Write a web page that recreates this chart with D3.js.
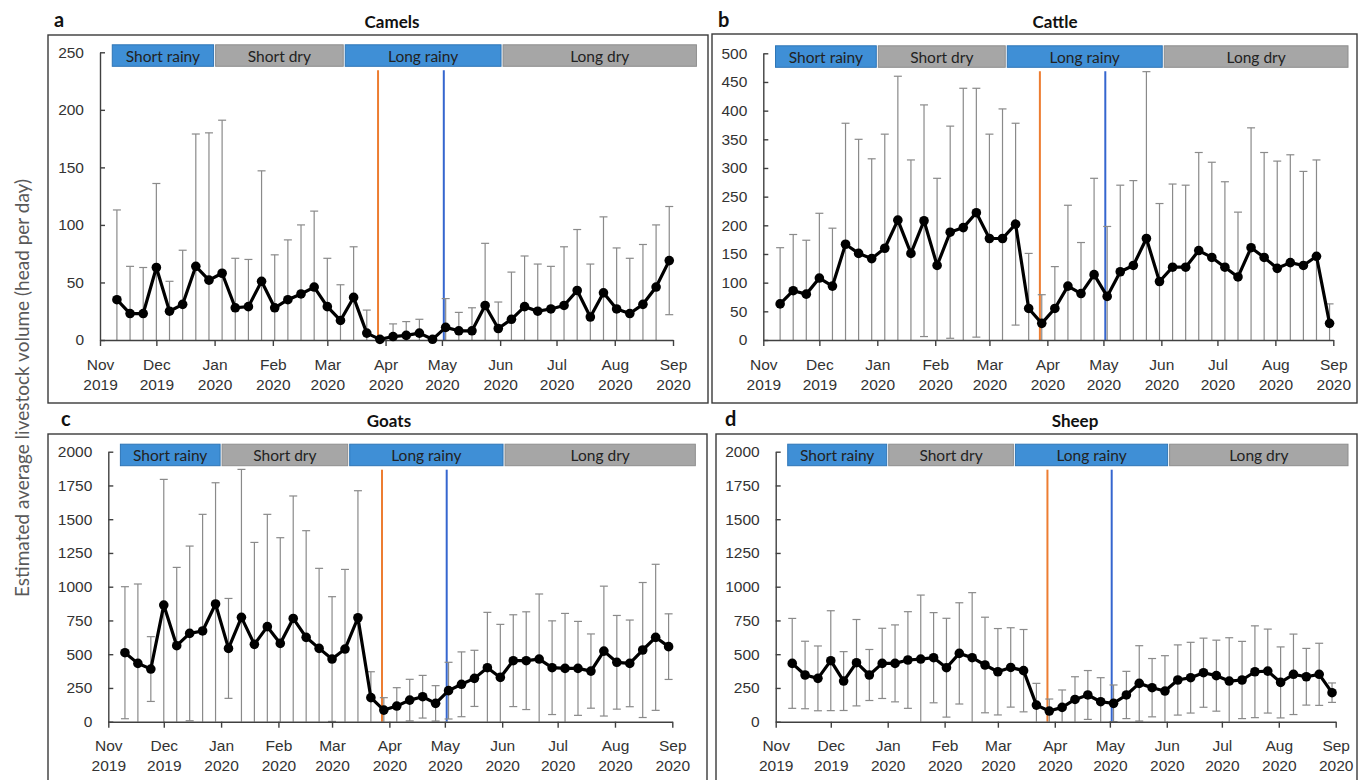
<!DOCTYPE html>
<html>
<head>
<meta charset="utf-8">
<script src="https://cdn.jsdelivr.net/npm/d3@7"></script>
<style>
  html, body { margin: 0; padding: 0; background: #fff; }
  svg { display: block; font-family: Lato, "Open Sans", sans-serif; }
</style>
</head>
<body>
<svg id="chart" width="1359" height="780"></svg>
<script>
// Weekly sampling dates (one point per week)
const weeks = [
  "2019-11-10","2019-11-17","2019-11-24",
  "2019-12-01","2019-12-08","2019-12-15","2019-12-22","2019-12-29",
  "2020-01-05","2020-01-12","2020-01-19","2020-01-26",
  "2020-02-02","2020-02-09","2020-02-16","2020-02-23",
  "2020-03-01","2020-03-08","2020-03-15","2020-03-22","2020-03-29",
  "2020-04-05","2020-04-12","2020-04-19","2020-04-26",
  "2020-05-03","2020-05-10","2020-05-17","2020-05-24","2020-05-31",
  "2020-06-07","2020-06-14","2020-06-21","2020-06-28",
  "2020-07-05","2020-07-12","2020-07-19","2020-07-26",
  "2020-08-02","2020-08-09","2020-08-16","2020-08-23","2020-08-30"
];

// Mean weekly volume (head per day) and its error (±)
const camelsMean = [35,23,23,63,25,31,64,52,58,28,29,51,28,35,40,46,29,17,37,6,
  0.5,3,4,6,0.6,11,8,8,30,10,18,29,25,27,30,43,20,41,27,23,31,46,69];
const camelsErr = [78,41,40,73,26,47,115,128,133,43,41,96,46,52,60,66,42,31,44,20,
  2,11,12,12,1,25,16,20,54,23,41,44,41,37,51,53,46,66,53,48,52,54,47];

const cattleMean = [63,86,80,108,94,167,151,142,160,209,151,208,130,188,196,222,177,177,202,55,
  29,55,94,81,114,76,119,130,177,102,127,127,156,144,127,110,161,144,125,135,130,146,29];
const cattleErr = [98,98,94,113,101,211,199,174,199,251,163,202,152,185,243,217,182,226,176,96,
  50,73,141,89,168,122,151,148,291,136,145,143,171,166,149,113,209,183,187,188,164,168,34];

const goatsMean = [511,432,390,864,563,654,672,872,543,773,573,704,580,765,625,543,464,538,770,178,
  86,116,160,185,136,230,277,321,400,328,452,452,464,400,395,395,375,523,440,432,531,625,556];
const goatsErr = [489,588,240,931,580,647,864,898,370,1096,755,832,783,907,790,593,462,590,941,192,
  92,136,154,158,131,210,240,208,410,393,340,362,482,347,407,348,275,481,347,321,500,541,243];

const sheepMean = [432,346,321,452,301,437,346,432,432,457,464,474,400,506,474,420,370,402,378,123,
  79,106,165,198,148,136,198,284,252,227,309,326,363,341,301,309,370,375,291,351,333,351,215];
const sheepErr = [333,250,240,370,218,320,189,260,285,358,474,334,366,375,482,354,320,294,305,161,
  89,129,168,181,178,136,175,279,216,262,260,262,256,263,321,286,340,311,263,298,210,230,72];

// Axis ticks
const monthTicks = ["2019-11-01","2019-12-01","2020-01-01","2020-02-01","2020-03-01","2020-04-01",
  "2020-05-01","2020-06-01","2020-07-01","2020-08-01","2020-09-01"];
const yTicksCamels = [0,50,100,150,200,250];
const yTicksCattle = [0,50,100,150,200,250,300,350,400,450,500];
const yTicksSmall = [0,250,500,750,1000,1250,1500,1750,2000];

// Seasons shown as a band along the top of each panel
const seasonNames = ["Short rainy","Short dry","Long rainy","Long dry"];
const seasonStarts = ["2019-11-07","2020-01-01","2020-03-10","2020-06-02"];
const seasonEnds   = ["2020-01-01","2020-03-10","2020-06-02","2020-09-14"];
const seasonWet    = [true,false,true,false];

// Event markers
const eventDates  = ["2020-03-28","2020-05-02"];
const eventColors = ["#ed7d31","#3566cf"];

const parse = d3.timeParse("%Y-%m-%d");
const weekDates = weeks.map(parse);
const monthDates = monthTicks.map(parse);

const panels = [
  { letter:"a", title:"Camels", mean:camelsMean, err:camelsErr, ticks:yTicksCamels,
    frame:{x0:48,y0:35,x1:708,y1:403}, plot:{left:100,right:673,top:52.3,bottom:340},
    titleX:392, rowY:28, letterX:54 },
  { letter:"b", title:"Cattle", mean:cattleMean, err:cattleErr, ticks:yTicksCattle,
    frame:{x0:712,y0:34,x1:1357,y1:403}, plot:{left:763.3,right:1333.3,top:53.3,bottom:340},
    titleX:1055, rowY:28, letterX:718 },
  { letter:"c", title:"Goats", mean:goatsMean, err:goatsErr, ticks:yTicksSmall,
    frame:{x0:48,y0:434,x1:707,y1:792}, plot:{left:108.3,right:672.3,top:451.7,bottom:721.7},
    titleX:389, rowY:427, letterX:61 },
  { letter:"d", title:"Sheep", mean:sheepMean, err:sheepErr, ticks:yTicksSmall,
    frame:{x0:716,y0:434,x1:1357,y1:792}, plot:{left:775.7,right:1335.7,top:451.7,bottom:721.7},
    titleX:1075, rowY:427, letterX:725 }
];

const svg = d3.select("#chart");
const axisColor = "#404040";

// Shared y-axis title
svg.append("text")
  .attr("transform", "translate(21,388) rotate(-90)")
  .attr("text-anchor", "middle")
  .attr("dominant-baseline", "central")
  .attr("font-size", 19)
  .attr("fill", "#595959")
  .text("Estimated average livestock volume (head per day)");

panels.forEach(p => {
  const g = svg.append("g");
  const f = p.frame, pl = p.plot;

  // panel frame
  g.append("rect")
    .attr("x", f.x0).attr("y", f.y0)
    .attr("width", f.x1 - f.x0).attr("height", f.y1 - f.y0)
    .attr("fill", "none").attr("stroke", "#3a3a3a").attr("stroke-width", 1.4);

  // panel letter and title
  g.append("text").attr("x", p.letterX).attr("y", p.rowY - 1)
    .attr("font-size", 20).attr("font-weight", 700).attr("fill", "#111").text(p.letter);
  g.append("text").attr("x", p.titleX).attr("y", p.rowY)
    .attr("text-anchor", "middle")
    .attr("font-size", 17).attr("font-weight", 700).attr("fill", "#111").text(p.title);

  const x = d3.scaleTime().domain([monthDates[0], monthDates[monthDates.length - 1]])
    .range([pl.left, pl.right]);
  const y = d3.scaleLinear().domain([0, d3.max(p.ticks)]).range([pl.bottom, pl.top]);

  // season band
  const bandTop = pl.top - 7.5, bandH = 21.5;
  seasonNames.forEach((name, i) => {
    const xa = x(parse(seasonStarts[i])) + 1;
    const xb = Math.min(x(parse(seasonEnds[i])) - 1, f.x1 - 9);
    g.append("rect")
      .attr("x", xa).attr("y", bandTop).attr("width", xb - xa).attr("height", bandH)
      .attr("fill", seasonWet[i] ? "#3f8fd6" : "#a6a6a6")
      .attr("stroke", seasonWet[i] ? "#2e75b6" : "#8e8e8e").attr("stroke-width", 1);
    g.append("text")
      .attr("x", (xa + xb) / 2).attr("y", bandTop + bandH / 2)
      .attr("text-anchor", "middle").attr("dominant-baseline", "central")
      .attr("font-size", 15.5).attr("fill", "#222").text(name);
  });

  // event lines
  eventDates.forEach((d, i) => {
    const xe = x(parse(d));
    g.append("line")
      .attr("x1", xe).attr("x2", xe)
      .attr("y1", pl.top + 18).attr("y2", pl.bottom)
      .attr("stroke", eventColors[i]).attr("stroke-width", 2);
  });

  // error bars (clipped at zero)
  const eb = g.append("g").attr("stroke", "#8a8a8a").attr("stroke-width", 1.2).attr("fill", "none");
  weekDates.forEach((d, i) => {
    const xv = x(d);
    const hi = p.mean[i] + p.err[i];
    const lo = p.mean[i] - p.err[i];
    eb.append("line").attr("x1", xv).attr("x2", xv)
      .attr("y1", y(Math.max(lo, 0))).attr("y2", y(hi));
    eb.append("line").attr("x1", xv - 4).attr("x2", xv + 4).attr("y1", y(hi)).attr("y2", y(hi));
    if (lo >= 0) {
      eb.append("line").attr("x1", xv - 4).attr("x2", xv + 4).attr("y1", y(lo)).attr("y2", y(lo));
    }
  });

  // axes
  const yAxis = d3.axisLeft(y).tickValues(p.ticks).tickFormat(d3.format("d"))
    .tickSizeInner(-5).tickSizeOuter(0).tickPadding(16);
  const ga = g.append("g").attr("transform", `translate(${pl.left},0)`).call(yAxis);
  ga.select(".domain").attr("stroke", axisColor).attr("stroke-width", 1.4);
  ga.selectAll(".tick line").attr("stroke", axisColor).attr("stroke-width", 1.4);
  ga.selectAll(".tick text").attr("font-size", 15.5).attr("fill", "#333").attr("font-family", null);

  const xAxis = d3.axisBottom(x).tickValues(monthDates).tickSizeInner(6).tickSizeOuter(0).tickFormat("");
  const gx = g.append("g").attr("transform", `translate(0,${pl.bottom})`).call(xAxis);
  gx.select(".domain").attr("stroke", axisColor).attr("stroke-width", 1.4);
  gx.selectAll(".tick line").attr("stroke", axisColor).attr("stroke-width", 1.4);
  const fm = d3.timeFormat("%b"), fy = d3.timeFormat("%Y");
  gx.selectAll(".tick").each(function(d) {
    const t = d3.select(this).append("text")
      .attr("text-anchor", "middle").attr("font-size", 15.5).attr("fill", "#333")
      .attr("font-family", null);
    t.append("tspan").attr("x", 0).attr("y", 29.5).text(fm(d));
    t.append("tspan").attr("x", 0).attr("y", 49.5).text(fy(d));
  });

  // mean line and markers
  const line = d3.line().x((v, i) => x(weekDates[i])).y(v => y(v));
  g.append("path").datum(p.mean)
    .attr("d", line).attr("fill", "none")
    .attr("stroke", "#000").attr("stroke-width", 3.2).attr("stroke-linejoin", "round");
  g.append("g").selectAll("circle").data(p.mean).join("circle")
    .attr("cx", (v, i) => x(weekDates[i])).attr("cy", v => y(v)).attr("r", 4.8)
    .attr("fill", "#000");
});
</script>
</body>
</html>
